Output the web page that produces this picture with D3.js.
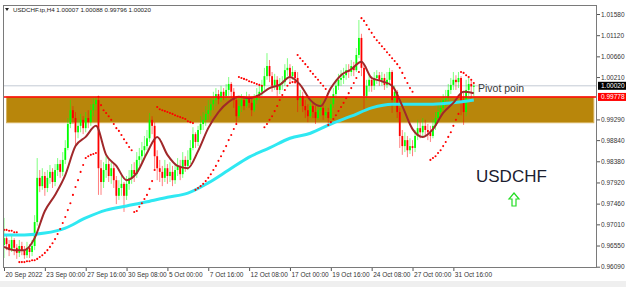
<!DOCTYPE html>
<html>
<head>
<meta charset="utf-8">
<script src="https://cdn.jsdelivr.net/npm/d3@7"></script>
<style>
  html, body { margin: 0; padding: 0; background: #fff; }
  svg { display: block; font-family: "Liberation Sans", Arial, sans-serif; }
</style>
</head>
<body>
<svg id="chart" width="626" height="287"></svg>
<script>
  //USDCHF H4 bars, bar 0 = 20 Sep 2022 08:00
  const open = [0.9656,
    0.9671,0.9658,0.9645,0.9667,0.9650,0.9639,0.9654,0.9645,0.9634,0.9650,
    0.9641,0.9654,0.9706,0.9802,0.9784,0.9806,0.9780,0.9802,0.9815,0.9793,
    0.9819,0.9832,0.9815,0.9841,0.9867,0.9919,0.9949,0.9932,0.9901,0.9915,
    0.9928,0.9910,0.9932,0.9923,0.9949,0.9962,0.9971,0.9823,0.9793,0.9819,
    0.9832,0.9806,0.9823,0.9797,0.9763,0.9780,0.9789,0.9763,0.9789,0.9802,
    0.9819,0.9810,0.9841,0.9849,0.9862,0.9871,0.9888,0.9928,0.9915,0.9849,
    0.9823,0.9815,0.9802,0.9823,0.9806,0.9815,0.9797,0.9819,0.9828,0.9810,
    0.9841,0.9828,0.9841,0.9867,0.9897,0.9880,0.9906,0.9919,0.9928,0.9941,
    0.9949,0.9962,0.9971,0.9984,0.9973,0.9989,0.9980,0.9993,1.0006,0.9989,
    0.9971,0.9936,0.9958,0.9971,0.9958,0.9975,0.9965,0.9949,0.9971,0.9982,
    0.9989,1.0002,1.0023,1.0045,1.0023,1.0002,1.0015,0.9993,1.0006,1.0010,
    1.0036,1.0041,1.0023,1.0032,1.0019,0.9971,0.9980,0.9958,0.9949,0.9936,
    0.9958,0.9945,0.9932,0.9949,0.9954,0.9938,0.9945,0.9932,0.9962,0.9984,
    1.0002,1.0015,1.0019,1.0025,1.0036,1.0032,1.0045,1.0036,1.0069,1.0106,
    1.0041,0.9980,1.0002,1.0015,1.0002,1.0019,1.0025,1.0015,1.0019,1.0004,
    1.0015,1.0032,0.9971,0.9989,0.9945,0.9893,0.9871,0.9884,0.9862,0.9871,
    0.9867,0.9893,0.9910,0.9901,0.9915,0.9906,0.9901,0.9893,0.9915,0.9932,
    0.9945,0.9954,0.9971,0.9975,0.9993,1.0004,1.0015,1.0010,1.0019,0.9967,
    0.9945,0.9993,1.0006,1.00007];

  const high = [
    0.9715,0.9676,0.9667,0.9676,0.9671,0.9658,0.9667,0.9663,0.9654,0.9663,
    0.9658,0.9667,0.9721,0.9845,0.9819,0.9823,0.9815,0.9819,0.9830,0.9823,
    0.9832,0.9845,0.9841,0.9858,0.9884,0.9932,0.9971,0.9958,0.9945,0.9928,
    0.9941,0.9936,0.9945,0.9949,0.9962,0.9975,0.9978,0.9975,0.9841,0.9836,
    0.9849,0.9841,0.9836,0.9832,0.9806,0.9797,0.9806,0.9793,0.9806,0.9819,
    0.9832,0.9836,0.9858,0.9867,0.9880,0.9893,0.9906,0.9943,0.9936,0.9923,
    0.9862,0.9841,0.9828,0.9841,0.9832,0.9836,0.9828,0.9832,0.9845,0.9841,
    0.9858,0.9849,0.9862,0.9884,0.9912,0.9901,0.9915,0.9936,0.9945,0.9958,
    0.9971,0.9975,0.9989,0.9997,0.9993,1.0002,0.9997,1.0006,1.0021,1.0010,
    0.9997,0.9980,0.9975,0.9984,0.9980,0.9989,0.9984,0.9975,0.9984,0.9997,
    1.0002,1.0015,1.0041,1.0073,1.0058,1.0032,1.0028,1.0023,1.0019,1.0023,
    1.0049,1.0062,1.0049,1.0045,1.0036,1.0032,0.9993,0.9989,0.9971,0.9962,
    0.9971,0.9967,0.9958,0.9962,0.9971,0.9962,0.9958,0.9954,0.9980,0.9997,
    1.0015,1.0028,1.0036,1.0041,1.0049,1.0049,1.0058,1.0054,1.0084,1.0145,
    1.0115,1.0049,1.0015,1.0028,1.0023,1.0032,1.0036,1.0032,1.0032,1.0028,
    1.0032,1.0041,1.0036,1.0002,0.9993,0.9954,0.9906,0.9901,0.9893,0.9888,
    0.9884,0.9906,0.9928,0.9923,0.9932,0.9928,0.9919,0.9915,0.9928,0.9945,
    0.9962,0.9971,0.9984,0.9993,1.0006,1.0019,1.0032,1.0025,1.0032,1.0023,
    0.9989,1.0015,1.0019,1.0015,1.00088];

  const low = [
    0.9628,0.9645,0.9632,0.9641,0.9634,0.9626,0.9630,0.9634,0.9626,0.9628,
    0.9628,0.9632,0.9645,0.9698,0.9771,0.9776,0.9763,0.9771,0.9789,0.9780,
    0.9784,0.9806,0.9802,0.9806,0.9832,0.9862,0.9910,0.9919,0.9873,0.9888,
    0.9901,0.9897,0.9901,0.9910,0.9915,0.9936,0.9949,0.9765,0.9765,0.9780,
    0.9802,0.9793,0.9789,0.9780,0.9745,0.9754,0.9763,0.9728,0.9754,0.9776,
    0.9789,0.9793,0.9802,0.9828,0.9836,0.9849,0.9862,0.9880,0.9897,0.9819,
    0.9797,0.9793,0.9784,0.9793,0.9789,0.9793,0.9784,0.9789,0.9806,0.9797,
    0.9802,0.9815,0.9819,0.9832,0.9862,0.9867,0.9871,0.9897,0.9906,0.9915,
    0.9928,0.9936,0.9949,0.9958,0.9962,0.9967,0.9971,0.9971,0.9980,0.9975,
    0.9954,0.9917,0.9932,0.9945,0.9949,0.9954,0.9954,0.9936,0.9945,0.9962,
    0.9971,0.9980,0.9993,1.0015,1.0010,0.9989,0.9993,0.9980,0.9984,0.9993,
    1.0002,1.0023,1.0010,1.0015,1.0006,0.9945,0.9958,0.9945,0.9932,0.9923,
    0.9932,0.9932,0.9919,0.9928,0.9936,0.9928,0.9932,0.9919,0.9928,0.9954,
    0.9975,0.9993,1.0002,1.0006,1.0015,1.0019,1.0023,1.0023,1.0032,1.0062,
    1.0023,0.9949,0.9971,0.9989,0.9989,0.9993,1.0006,1.0002,1.0002,0.9993,
    0.9997,1.0006,0.9943,0.9962,0.9932,0.9867,0.9852,0.9858,0.9847,0.9854,
    0.9849,0.9858,0.9884,0.9888,0.9893,0.9893,0.9884,0.9880,0.9888,0.9906,
    0.9923,0.9936,0.9945,0.9958,0.9967,0.9984,0.9993,0.9993,0.9997,0.9938,
    0.9917,0.9936,0.9980,0.9975,0.99796];

  const close = [
    0.9671,0.9658,0.9645,0.9667,0.9650,0.9639,0.9654,0.9645,0.9634,0.9650,
    0.9641,0.9654,0.9706,0.9802,0.9784,0.9806,0.9780,0.9802,0.9815,0.9793,
    0.9819,0.9832,0.9815,0.9841,0.9867,0.9919,0.9949,0.9932,0.9901,0.9915,
    0.9928,0.9910,0.9932,0.9923,0.9949,0.9962,0.9971,0.9823,0.9793,0.9819,
    0.9832,0.9806,0.9823,0.9797,0.9763,0.9780,0.9789,0.9763,0.9789,0.9802,
    0.9819,0.9810,0.9841,0.9849,0.9862,0.9871,0.9888,0.9928,0.9915,0.9849,
    0.9823,0.9815,0.9802,0.9823,0.9806,0.9815,0.9797,0.9819,0.9828,0.9810,
    0.9841,0.9828,0.9841,0.9867,0.9897,0.9880,0.9906,0.9919,0.9928,0.9941,
    0.9949,0.9962,0.9971,0.9984,0.9973,0.9989,0.9980,0.9993,1.0006,0.9989,
    0.9971,0.9936,0.9958,0.9971,0.9958,0.9975,0.9965,0.9949,0.9971,0.9982,
    0.9989,1.0002,1.0023,1.0045,1.0023,1.0002,1.0015,0.9993,1.0006,1.0010,
    1.0036,1.0041,1.0023,1.0032,1.0019,0.9971,0.9980,0.9958,0.9949,0.9936,
    0.9958,0.9945,0.9932,0.9949,0.9954,0.9938,0.9945,0.9932,0.9962,0.9984,
    1.0002,1.0015,1.0019,1.0025,1.0036,1.0032,1.0045,1.0036,1.0069,1.0106,
    1.0041,0.9980,1.0002,1.0015,1.0002,1.0019,1.0025,1.0015,1.0019,1.0004,
    1.0015,1.0032,0.9971,0.9989,0.9945,0.9893,0.9871,0.9884,0.9862,0.9871,
    0.9867,0.9893,0.9910,0.9901,0.9915,0.9906,0.9901,0.9893,0.9915,0.9932,
    0.9945,0.9954,0.9971,0.9975,0.9993,1.0004,1.0015,1.0010,1.0019,0.9967,
    0.9945,0.9993,1.0006,1.00007,1.00020];

  //Parabolic SAR, one value per bar (null where no dot is visible)
  const sar = [
    0.9689,0.9689,0.9687,0.9687,0.9684,0.9684,
    0.9619,0.9619,0.9619,0.9621,0.9621,0.9623,0.9623,0.9626,0.9630,0.9634,
    0.9639,0.9645,0.9652,0.9660,0.9669,0.9680,0.9691,0.9704,0.9717,0.9732,
    0.9747,0.9765,0.9782,0.9797,0.9815,0.9830,0.9845,0.9849,0.9852,0.9854,0.9856,
    0.9978,0.9960,0.9949,0.9943,0.9936,0.9928,0.9919,0.9910,0.9904,0.9895,
    0.9886,0.9878,0.9869,0.9862,
    0.9728,0.9730,0.9739,0.9747,0.9756,0.9765,0.9778,0.9795,0.9819,
    0.9956,0.9951,0.9949,0.9947,0.9945,0.9943,0.9941,0.9938,0.9936,0.9934,
    0.9932,0.9930,0.9925,0.9923,0.9921,
    0.9776,0.9780,0.9784,0.9789,0.9795,0.9802,0.9810,0.9819,0.9828,0.9839,
    0.9849,0.9860,0.9871,0.9884,0.9895,0.9908,0.9919,
    1.0021,1.0019,1.0017,1.0015,1.0012,1.0010,1.0008,1.0006,1.0004,1.0002,
    0.9912,0.9919,0.9928,0.9936,0.9947,0.9958,0.9971,0.9982,0.9993,1.0002,
    1.0008,1.0010,1.0010,
    1.0069,1.0062,1.0056,1.0049,1.0043,1.0034,1.0028,1.0021,1.0015,1.0008,
    1.0002,0.9995,
    0.9917,0.9923,0.9930,0.9938,0.9947,0.9956,0.9965,0.9975,0.9986,0.9997,
    1.0008,1.0019,1.0032,
    1.0149,1.0143,1.0134,1.0125,1.0117,1.0108,1.0101,1.0095,1.0088,1.0082,
    1.0075,1.0069,1.0062,1.0056,1.0049,1.0041,1.0030,1.0019,1.0008,0.9997,0.9989,
    null,null,null,null,null,null,
    0.9841,0.9845,0.9849,0.9856,0.9862,0.9871,0.9880,0.9891,0.9901,0.9915,
    0.9928,0.9941,
    1.0032,1.0030,1.0025,1.0021,1.0015,1.0008];

  //Fast moving average (brown), sampled every 4 bars
  const maFastStep = 4;
  const maFast = [0.9652,0.9645,0.9645,0.9671,0.9730,0.9765,0.9808,0.9871,0.9891,0.9915,
    0.9852,0.9828,0.9797,0.9813,0.9856,0.9891,0.9852,0.9828,0.9823,0.9860,
    0.9910,0.9945,0.9967,0.9978,0.9975,0.9982,0.9997,1.0004,1.0021,1.0004,
    0.9971,0.9958,0.9997,1.0025,1.0038,1.0054,1.0019,1.0012,1.0002,0.9958,
    0.9908,0.9891,0.9908,0.9943,0.9965,0.9989,0.9986];

  //Slow moving average (cyan), sampled every 8 bars
  const maSlowStep = 8;
  const maSlow = [0.9678,0.9678,0.9682,0.9693,0.9715,0.9732,0.9741,0.9750,0.9760,0.9769,
    0.9791,0.9819,0.9847,0.9867,0.9888,0.9899,0.9919,0.9936,0.9954,0.9962,
    0.9962,0.9962,0.9965,0.9971];

  //Pivot zone and current bid
  const pivotLevel = 0.99778;
  const zoneBottom = 0.99218;
  const zoneBars = [1, 231];
  const bid = 1.00020;

  //Axis ticks
  const priceTicks = [1.0158,1.0112,1.0066,1.0021,0.9929,0.9884,0.9838,0.9792,0.9746,0.9701,0.9655,0.9609];
  const timeTickBars = [0,16,32,48,64,80,96,112,128,144,160,176];
  const timeTickLabels = ['20 Sep 2022','23 Sep 00:00','27 Sep 16:00','30 Sep 08:00','5 Oct 00:00',
    '7 Oct 16:00','12 Oct 08:00','17 Oct 00:00','19 Oct 16:00','24 Oct 08:00','27 Oct 00:00','31 Oct 16:00'];

  const titleText = 'USDCHF.tp,H4  1.00007 1.00088 0.99796 1.00020';

  const width = 626;
  const height = 287;
  const plot = { left: 3, right: 597, top: 5, bottom: 268 };

  const svg = d3.select('#chart');

  const x = d3.scaleLinear().domain([0, 184]).range([4, 473.8]);
  const y = d3.scaleLinear().domain([0.9609, 1.0158]).range([266.7, 14]);

  //bottom strip
  svg.append('rect')
    .attr('x', 0).attr('y', 281).attr('width', width).attr('height', 6)
    .attr('fill', '#efefef');

  svg.append('defs').append('clipPath').attr('id', 'plotClip')
    .append('rect')
    .attr('x', plot.left).attr('y', plot.top)
    .attr('width', plot.right - plot.left).attr('height', plot.bottom - plot.top);

  const g = svg.append('g').attr('clip-path', 'url(#plotClip)');

  //pivot zone
  g.append('rect')
    .attr('x', x(zoneBars[0]))
    .attr('width', x(zoneBars[1]) - x(zoneBars[0]))
    .attr('y', y(pivotLevel))
    .attr('height', y(zoneBottom) - y(pivotLevel))
    .attr('fill', '#b8860b')
    .attr('stroke', '#d6b25e')
    .attr('stroke-width', 1);

  //bid line
  g.append('line')
    .attr('x1', plot.left).attr('x2', plot.right)
    .attr('y1', y(bid)).attr('y2', y(bid))
    .attr('stroke', '#c3cad4').attr('stroke-width', 1);

  //candles
  const bars = close.map((c, i) => ({ i, o: open[i], h: high[i], l: low[i], c }));
  const candleColor = d => d.c >= d.o ? '#00ff00' : '#ff0000';

  const candles = g.append('g').attr('class', 'candles')
    .selectAll('g')
    .data(bars)
    .enter().append('g');

  candles.append('line')
    .attr('x1', d => x(d.i)).attr('x2', d => x(d.i))
    .attr('y1', d => y(d.h)).attr('y2', d => y(d.l))
    .attr('stroke', candleColor)
    .attr('stroke-opacity', 0.5)
    .attr('stroke-width', 1);

  candles.append('rect')
    .attr('x', d => x(d.i) - 0.9)
    .attr('width', 1.8)
    .attr('y', d => Math.min(y(d.o), y(d.c)))
    .attr('height', d => Math.max(1, Math.abs(y(d.o) - y(d.c))))
    .attr('fill', candleColor);

  //slow MA
  g.append('path')
    .datum(maSlow)
    .attr('fill', 'none')
    .attr('stroke', '#2fe8f2')
    .attr('stroke-width', 3)
    .attr('d', d3.line().x((d, i) => x(i * maSlowStep)).y(d => y(d)).curve(d3.curveMonotoneX));

  //fast MA
  g.append('path')
    .datum(maFast)
    .attr('fill', 'none')
    .attr('stroke', '#a0282a')
    .attr('stroke-width', 2)
    .attr('d', d3.line().x((d, i) => x(i * maFastStep)).y(d => y(d)).curve(d3.curveMonotoneX));

  //pivot line
  g.append('line')
    .attr('x1', plot.left).attr('x2', plot.right)
    .attr('y1', y(pivotLevel)).attr('y2', y(pivotLevel))
    .attr('stroke', '#ff0000').attr('stroke-width', 1.5);

  //parabolic SAR dots
  g.append('g').attr('class', 'sar')
    .selectAll('circle')
    .data(sar.map((v, i) => ({ i, v })).filter(d => d.v !== null))
    .enter().append('circle')
    .attr('cx', d => x(d.i))
    .attr('cy', d => y(d.v))
    .attr('r', 1.05)
    .attr('fill', '#ff0000');

  //labels inside chart
  svg.append('text')
    .attr('x', 478).attr('y', y(bid) + 6.5)
    .attr('font-size', 10.5)
    .attr('fill', '#3a3a3a')
    .text('Pivot poin');

  svg.append('text')
    .attr('x', 476).attr('y', 182)
    .attr('font-size', 17)
    .attr('fill', '#1b2030')
    .text('USDCHF');

  svg.append('path')
    .attr('transform', 'translate(514,193)')
    .attr('d', 'M0,0 L5,6 L2,6 L2,13 L-2,13 L-2,6 L-5,6 Z')
    .attr('fill', '#ffffff')
    .attr('stroke', '#22dd22')
    .attr('stroke-width', 1.2);

  //frame
  svg.append('rect')
    .attr('x', plot.left + 0.5).attr('y', plot.top + 0.5)
    .attr('width', plot.right - plot.left - 1).attr('height', plot.bottom - plot.top - 1)
    .attr('fill', 'none')
    .attr('stroke', '#7a7a7a');

  //price axis
  const yAxis = svg.append('g')
    .attr('transform', `translate(${plot.right},0)`)
    .call(d3.axisRight(y).tickValues(priceTicks).tickFormat(d3.format('.5f')).tickSize(3).tickPadding(1));
  yAxis.select('.domain').remove();
  yAxis.selectAll('line').attr('stroke', '#555');
  yAxis.selectAll('text')
    .attr('font-size', 6.5)
    .attr('fill', '#333')
    .attr('font-family', '"Liberation Sans", Arial, sans-serif');

  //time axis
  const xAxis = svg.append('g')
    .attr('transform', `translate(0,${plot.bottom})`)
    .call(d3.axisBottom(x).tickValues(timeTickBars).tickFormat((d, i) => timeTickLabels[i]).tickSize(3));
  xAxis.select('.domain').remove();
  xAxis.selectAll('line').attr('stroke', '#555');
  xAxis.selectAll('text')
    .attr('text-anchor', 'start')
    .attr('dx', 1)
    .attr('y', 4)
    .attr('font-size', 6.5)
    .attr('fill', '#333')
    .attr('font-family', '"Liberation Sans", Arial, sans-serif');

  //price tags on the axis
  const tags = [
    { v: bid, fill: '#000000' },
    { v: pivotLevel, fill: '#ff0000' }
  ];
  const tag = svg.append('g').selectAll('g').data(tags).enter().append('g');
  tag.append('rect')
    .attr('x', plot.right + 1).attr('y', d => y(d.v) - 4)
    .attr('width', 28).attr('height', 8)
    .attr('fill', d => d.fill);
  tag.append('text')
    .attr('x', plot.right + 4).attr('y', d => y(d.v) + 2.3)
    .attr('font-size', 6.5)
    .attr('fill', '#fff')
    .text(d => d3.format('.5f')(d.v));

  //title
  svg.append('path')
    .attr('d', 'M5,8 L9,8 L7,11 Z')
    .attr('fill', '#222');
  svg.append('text')
    .attr('x', 13).attr('y', 12)
    .attr('font-size', 6.2)
    .attr('fill', '#222')
    .text(titleText);
</script>
</body>
</html>
